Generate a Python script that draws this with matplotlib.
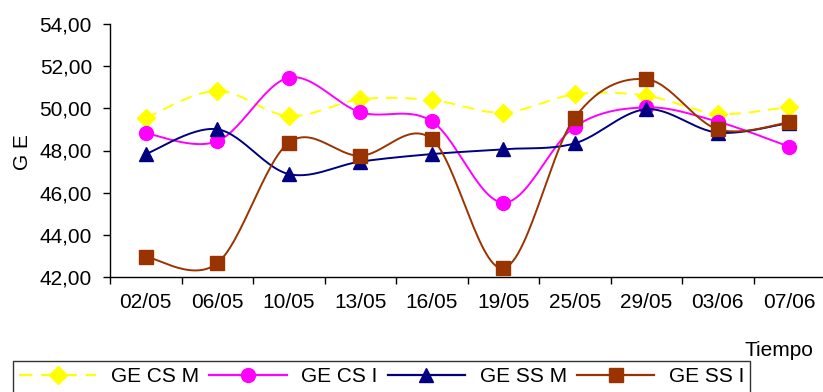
import numpy as np
import matplotlib
matplotlib.use("Agg")
import matplotlib.pyplot as plt
from matplotlib.ticker import FixedLocator, FuncFormatter

plt.rcParams['font.family'] = ['Liberation Sans', 'DejaVu Sans']

fechas = ["02/05", "06/05", "10/05", "13/05", "16/05",
          "19/05", "25/05", "29/05", "03/06", "07/06"]

ge_cs_m = [49.55, 50.84, 49.64, 50.43, 50.40, 49.80, 50.67, 50.61, 49.75, 50.08]
ge_cs_i = [48.82, 48.44, 51.46, 49.82, 49.39, 45.52, 49.13, 50.05, 49.37, 48.18]
ge_ss_m = [47.83, 49.01, 46.88, 47.47, 47.83, 48.06, 48.34, 49.96, 48.85, 49.31]
ge_ss_i = [42.95, 42.64, 48.37, 47.75, 48.55, 42.40, 49.56, 51.39, 49.01, 49.34]

nombres = ["GE CS M", "GE CS I", "GE SS M", "GE SS I"]
colores = ["#FFFF00", "#FF00FF", "#000080", "#993300"]
marcadores = ["D", "o", "^", "s"]


def curva_suave(x, y, n=30):
    """Smoothed curve through the points (cubic Bezier segments)."""
    x = np.asarray(x, float)
    y = np.asarray(y, float)
    px = np.concatenate([[x[0]], x, [x[-1]]])
    py = np.concatenate([[y[0]], y, [y[-1]]])
    xs, ys = [], []
    t = np.linspace(0, 1, n)
    for i in range(len(x) - 1):
        p0 = np.array([x[i], y[i]])
        p3 = np.array([x[i + 1], y[i + 1]])
        p1 = p0 + (np.array([px[i + 2], py[i + 2]]) - np.array([px[i], py[i]])) / 6
        p2 = p3 - (np.array([px[i + 3], py[i + 3]]) - np.array([px[i + 1], py[i + 1]])) / 6
        seg = ((1 - t) ** 3)[:, None] * p0 + (3 * (1 - t) ** 2 * t)[:, None] * p1 \
            + (3 * (1 - t) * t ** 2)[:, None] * p2 + (t ** 3)[:, None] * p3
        xs.append(seg[:, 0])
        ys.append(seg[:, 1])
    return np.concatenate(xs), np.concatenate(ys)


fig = plt.figure(figsize=(8.23, 3.92), dpi=100)
ax = fig.add_axes([110 / 823, 1 - 276.7 / 392, 715 / 823, (276.7 - 24.3) / 392])

x = np.arange(len(fechas))
series = [ge_cs_m, ge_cs_i, ge_ss_m, ge_ss_i]
for k, (vals, nom, col, mk) in enumerate(zip(series, nombres, colores, marcadores)):
    sx, sy = curva_suave(x, vals)
    ls = (0, (6, 4)) if k == 0 else "-"
    ax.plot(sx, sy, color=col, lw=1.4, linestyle=ls, zorder=2 + k)
    ms = 9 if mk == "D" else 10
    ax.plot(x, vals, linestyle="none", marker=mk, markersize=ms,
            color=col, markeredgecolor=col, zorder=2 + k)
    # legend proxy
    ax.plot([], [], color=col, lw=1.6, linestyle=ls, marker=mk, markersize=ms,
            markeredgecolor=col, label=nom)

ax.set_xlim(-0.5, len(fechas) - 0.5)
ax.set_ylim(42, 54)
ax.set_yticks(np.arange(42, 54.1, 2))
ax.yaxis.set_major_formatter(FuncFormatter(lambda v, p: f"{v:.2f}".replace(".", ",")))

ax.xaxis.set_major_locator(FixedLocator(np.arange(-0.5, len(fechas), 1.0)))
ax.xaxis.set_minor_locator(FixedLocator(x))
ax.set_xticklabels([], minor=False)
ax.set_xticklabels(fechas, minor=True)
ax.tick_params(axis="x", which="major", length=5, width=1, direction="out", color="black")
ax.tick_params(axis="x", which="minor", length=0, pad=12, labelsize=15)
ax.tick_params(axis="y", length=5, width=1, direction="out", pad=8, labelsize=15)

for s in ["top", "right"]:
    ax.spines[s].set_visible(False)
for s in ["left", "bottom"]:
    ax.spines[s].set_color("black")
    ax.spines[s].set_linewidth(1)

fig.text(22 / 823, 1 - 152 / 392, "G E", rotation=90, ha="center", va="center", fontsize=15)
fig.text(813 / 823, 1 - 351 / 392, "Tiempo", ha="right", va="center", fontsize=15)

leg = fig.legend(loc="upper left", bbox_to_anchor=(13 / 823, 1 - 361 / 392),
                 bbox_transform=fig.transFigure, ncol=4, fontsize=15, frameon=True,
                 fancybox=False, borderaxespad=0, borderpad=0.3, handlelength=3.7,
                 handletextpad=0.7, columnspacing=0.5)
leg.get_frame().set_edgecolor("black")
leg.get_frame().set_linewidth(1)

fig.savefig("out.png", dpi=100)
